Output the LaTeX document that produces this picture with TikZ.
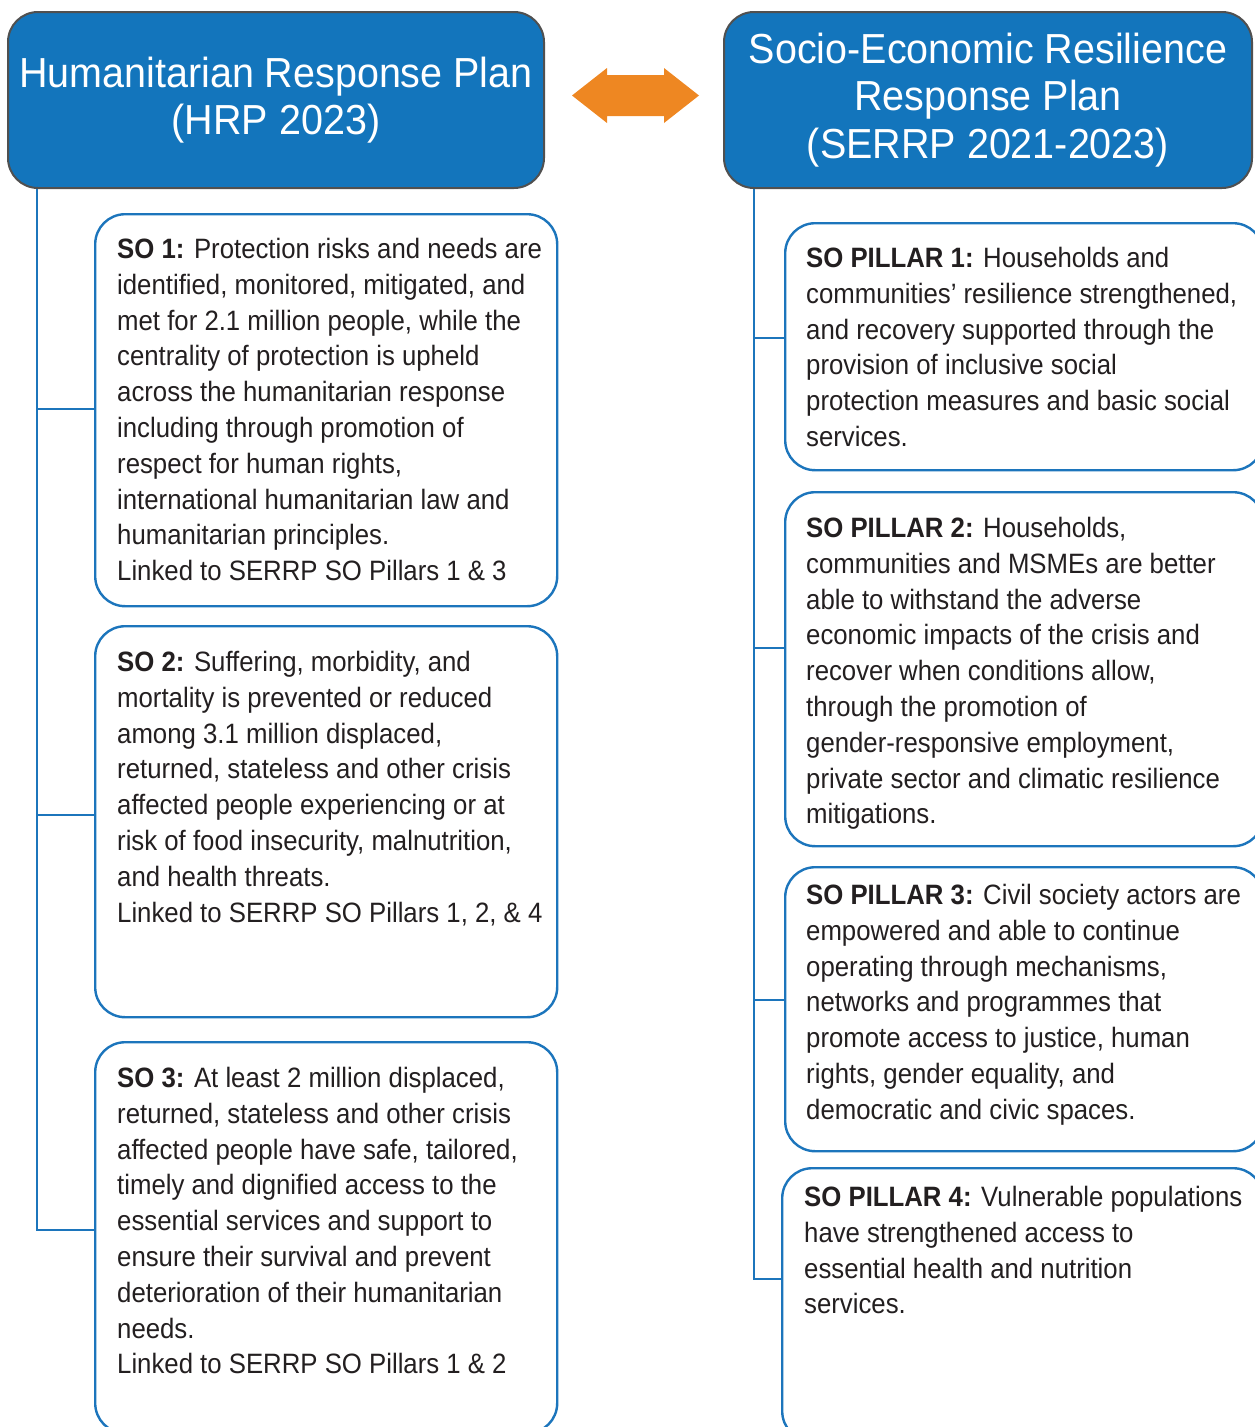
\documentclass[tikz,border=0pt]{standalone}
\usepackage{fontspec}
\setmainfont{Liberation Sans}[FakeStretch=0.92]
\newfontfamily\hdrfont{Liberation Sans}[FakeStretch=0.94]
\definecolor{hdrblue}{HTML}{1375BC}
\definecolor{lineblue}{HTML}{1C75BC}
\definecolor{hdrborder}{HTML}{505050}
\definecolor{arroworange}{HTML}{EE8722}
\definecolor{txtcol}{HTML}{231F20}
\begin{document}
\begin{tikzpicture}[x=1pt,y=-1pt,
 hdr/.style={draw=hdrborder, line width=2pt, fill=hdrblue, rounded corners=30pt, text=white, align=center, inner sep=0pt, font=\hdrfont\fontsize{42}{47.5}\selectfont},
 sobox/.style={draw=lineblue, line width=2.4pt, rounded corners=30pt, fill=white, inner sep=0pt, anchor=north west},
 sotext/.style={anchor=north west, align=left, inner sep=0pt, text=txtcol, font=\fontsize{28}{35.8}\selectfont},
 conn/.style={draw=lineblue, line width=2pt}]
\useasboundingbox (0,0) rectangle (1255,1427);

% headers
\node[hdr, minimum width=536pt, minimum height=176pt] (hrp) at (276,100)
  {Humanitarian Response Plan\\(HRP 2023)};
\node[hdr, minimum width=528pt, minimum height=176pt] (serrp) at (988,100)
  {Socio-Economic Resilience\\Response Plan\\(SERRP 2021-2023)};

% orange double arrow
\fill[arroworange] (572,95.5) -- (607,68) -- (607,75) -- (664,75) -- (664,68) -- (699,95.5)
  -- (664,123) -- (664,116) -- (607,116) -- (607,123) -- cycle;

% left boxes
\node[sobox, minimum width=462pt, minimum height=392pt] (so1) at (94,213) {};
\node[sobox, minimum width=462pt, minimum height=391pt] (so2) at (94,625) {};
\node[sobox, minimum width=462pt, minimum height=391pt] (so3) at (94,1041) {};

\node[sotext] (so1t) at (117,238) {\textbf{SO 1:} Protection risks and needs are\\
identified, monitored, mitigated, and\\
met for 2.1 million people, while the\\
centrality of protection is upheld\\
across the humanitarian response\\
including through promotion of\\
respect for human rights,\\
international humanitarian law and\\
humanitarian principles.\\
Linked to SERRP SO Pillars 1 \& 3};

\node[sotext] (so2t) at (117,651) {\textbf{SO 2:} Suffering, morbidity, and\\
mortality is prevented or reduced\\
among 3.1 million displaced,\\
returned, stateless and other crisis\\
affected people experiencing or at\\
risk of food insecurity, malnutrition,\\
and health threats.\\
Linked to SERRP SO Pillars 1, 2, \& 4};

\node[sotext] (so3t) at (117,1067) {\textbf{SO 3:} At least 2 million displaced,\\
returned, stateless and other crisis\\
affected people have safe, tailored,\\
timely and dignified access to the\\
essential services and support to\\
ensure their survival and prevent\\
deterioration of their humanitarian\\
needs.\\
Linked to SERRP SO Pillars 1 \& 2};

% right boxes
\node[sobox, minimum width=478pt, minimum height=247pt] (p1) at (784,222) {};
\node[sobox, minimum width=478pt, minimum height=354pt] (p2) at (784,491) {};
\node[sobox, minimum width=478pt, minimum height=284pt] (p3) at (784,866) {};
\node[sobox, minimum width=481pt, minimum height=273pt] (p4) at (781,1167) {};

\node[sotext] (p1t) at (806,247) {\textbf{SO PILLAR 1:} Households and\\
communities’ resilience strengthened,\\
and recovery supported through the\\
provision of inclusive social\\
protection measures and basic social\\
services.};

\node[sotext] (p2t) at (806,517) {\textbf{SO PILLAR 2:} Households,\\
communities and MSMEs are better\\
able to withstand the adverse\\
economic impacts of the crisis and\\
recover when conditions allow,\\
through the promotion of\\
gender-responsive employment,\\
private sector and climatic resilience\\
mitigations.};

\node[sotext] (p3t) at (806,884) {\textbf{SO PILLAR 3:} Civil society actors are\\
empowered and able to continue\\
operating through mechanisms,\\
networks and programmes that\\
promote access to justice, human\\
rights, gender equality, and\\
democratic and civic spaces.};

\node[sotext] (p4t) at (804,1186) {\textbf{SO PILLAR 4:} Vulnerable populations\\
have strengthened access to\\
essential health and nutrition\\
services.};

% connectors
\coordinate (lx) at (37,0);
\coordinate (rx) at (754,0);
\path ([yshift=1pt]so1.west) coordinate (b1)
      ([yshift=6.5pt]so2.west) coordinate (b2)
      ([yshift=7.5pt]so3.west) coordinate (b3)
      ([yshift=8.5pt]p1.west) coordinate (c1)
      ([yshift=21pt]p2.west) coordinate (c2)
      ([yshift=9pt]p3.west) coordinate (c3)
      ([yshift=25.5pt]p4.west) coordinate (c4);
\draw[conn] (hrp.south -| lx) |- (b3);
\draw[conn] (b1 -| lx) -- (b1);
\draw[conn] (b2 -| lx) -- (b2);
\draw[conn] (serrp.south -| rx) |- (c4);
\draw[conn] (c1 -| rx) -- (c1);
\draw[conn] (c2 -| rx) -- (c2);
\draw[conn] (c3 -| rx) -- (c3);
\end{tikzpicture}
\end{document}
